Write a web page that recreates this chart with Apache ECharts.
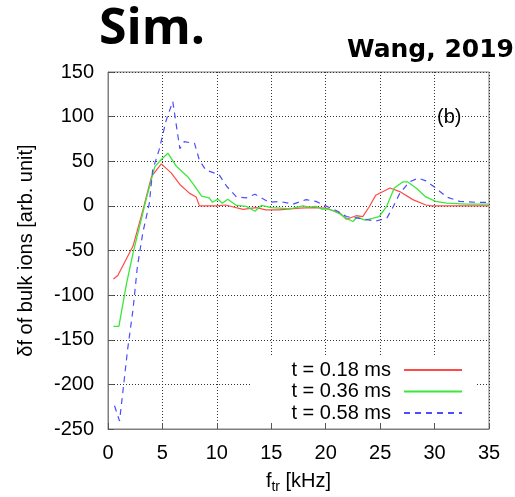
<!DOCTYPE html>
<html><head><meta charset="utf-8">
<script src="https://cdn.jsdelivr.net/npm/echarts@6/dist/echarts.min.js"></script>
<style>html,body{margin:0;padding:0;background:#fff}#c{width:515px;height:497px}</style>
</head><body><div id="c"></div>
<script>
const xTicks = [0, 5, 10, 15, 20, 25, 30, 35];
const yTicks = [-250, -200, -150, -100, -50, 0, 50, 100, 150];
const seriesNames = ['t = 0.18 ms', 't = 0.36 ms', 't = 0.58 ms'];

const redX = [0.5, 0.9, 2.3, 3.2, 4.0, 4.9, 5.8, 6.6, 7.5, 8.1, 8.4, 10.0, 10.8, 12.4, 13.6, 14.5, 15.7, 17.6, 18.8, 20.0, 21.3, 21.9, 22.8, 23.4, 24.0, 24.6, 25.9, 26.8, 28.0, 29.2, 29.7, 35];
const redY = [-82, -78, -45, -5, 33, 47, 37, 24, 14, 10, 0, 0, 1, -4, -2, -4.5, -4.5, -2.5, -2, -2.5, -8, -15, -11, -12, -1, 12, 20, 16, 7, 1, 0, 0];

const greenX = [0.5, 1.0, 1.7, 2.3, 2.9, 3.5, 4.3, 4.9, 5.5, 6.3, 7.3, 7.8, 8.6, 9.3, 9.6, 10.1, 10.5, 11.0, 11.8, 12.7, 13.5, 14.1, 15.0, 16.5, 17.0, 17.9, 18.5, 19.1, 19.6, 20.3, 21.3, 21.9, 22.5, 22.9, 23.6, 24.3, 24.9, 25.6, 26.3, 27.1, 27.5, 28.3, 29.2, 30.1, 31.1, 32.9, 35];
const greenY = [-135, -135, -87, -53, -23, 7, 44, 52, 59, 44, 33, 25, 11, 9, 4, 7.5, 3, 7.5, 0.5, -0.5, -6, 0.5, -2, -3, -2.5, 0, -1.5, -0.5, -3.5, -3.5, -9, -14, -17.5, -12.5, -16, -14, -12, -0.5, 20, 27, 27, 20, 10, 5, 3, 2, 2];

const blueX = [0.6, 1.06, 1.36, 1.8, 2.3, 2.7, 3.2, 3.8, 4.1, 4.7, 5.35, 5.95, 6.6, 7.0, 7.95, 8.4, 9.0, 10.2, 10.9, 11.8, 12.7, 13.5, 14.1, 14.8, 15.75, 17.0, 18.2, 19.1, 20.0, 21.1, 21.9, 23.1, 24.6, 25.6, 26.2, 26.8, 27.7, 28.5, 29.2, 30.1, 31.1, 32.3, 33.8, 35];
const blueY = [-224, -241, -209, -161, -116, -68, -30, 3, 40, 63, 96, 117, 64, 72, 70, 51, 40, 35, 22, 10, 9, 13, 9, 4, 5, 2, 7, 5, 0, -6, -12, -14, -17, -14, -1, 14, 27, 31, 28, 20, 10, 5, 4, 4];

const zip = (xs, ys) => xs.map((x, i) => [x, ys[i]]);
const FONT = '"Liberation Sans", Arial, sans-serif';

const chart = echarts.init(document.getElementById('c'), null, {renderer: 'canvas'});
chart.setOption({
  animation: false,
  backgroundColor: '#fff',
  grid: {left: 108, right: 26, top: 72, bottom: 68, containLabel: false, outerBoundsMode: 'none',
         show: true, borderColor: '#7f7f7f', borderWidth: 1, backgroundColor: 'transparent'},
  xAxis: {
    type: 'value', min: xTicks[0], max: xTicks[xTicks.length - 1], interval: 5,
    axisLine: {show: true, onZero: false, lineStyle: {color: '#7f7f7f'}},
    axisTick: {show: true, inside: true, length: 6, lineStyle: {color: '#555'}},
    splitLine: {show: true, lineStyle: {color: '#333', type: [1, 2], width: 1}},
    axisLabel: {fontFamily: FONT, fontSize: 20, color: '#000', margin: 14},
    name: '{f|f}{s|tr}{f| [kHz]}', nameLocation: 'middle', nameGap: 42,
    nameTextStyle: {fontFamily: FONT, color: '#000', rich: {
      f: {fontFamily: FONT, fontSize: 20, color: '#000', lineHeight: 20},
      s: {fontFamily: FONT, fontSize: 14, color: '#000', lineHeight: 14, padding: [12, 0, 0, 0]}
    }}
  },
  yAxis: {
    type: 'value', min: yTicks[0], max: yTicks[yTicks.length - 1], interval: 50,
    axisLine: {show: true, onZero: false, lineStyle: {color: '#7f7f7f'}},
    axisTick: {show: true, inside: true, length: 6, lineStyle: {color: '#555'}},
    splitLine: {show: true, lineStyle: {color: '#333', type: [1, 2], width: 1}},
    axisLabel: {fontFamily: FONT, fontSize: 20, color: '#000', margin: 14},
    name: 'δf of bulk ions [arb. unit]', nameLocation: 'middle', nameGap: 72, nameRotate: 90,
    nameTextStyle: {fontFamily: FONT, fontSize: 20, color: '#000'}
  },
  legend: {
    orient: 'vertical', right: 52, top: 360, align: 'right',
    itemWidth: 58, itemHeight: 12, itemGap: 1.5, padding: 0,
    itemStyle: {opacity: 0},
    textStyle: {fontFamily: FONT, fontSize: 20, color: '#000', padding: [0, 8, 0, 0]},
    data: seriesNames
  },
  graphic: [
    {type: 'rect', z: 1, shape: {x: 250, y: 357, width: 227, height: 64}, style: {fill: '#fff'}},
    {type: 'text', z: 5, left: 437, top: 107, style: {text: '(b)', font: '20px "Liberation Sans", Arial, sans-serif', fill: '#000'}},
    {type: 'text', z: 5, x: 152, y: 30, style: {text: 'Sim.', font: 'bold 50px "Open Sans", sans-serif', fill: '#000', textAlign: 'center', textVerticalAlign: 'middle'}},
    {type: 'text', z: 5, x: 514, y: 50, style: {text: 'Wang, 2019', font: 'bold 25px "DejaVu Sans", sans-serif', fill: '#000', textAlign: 'right', textVerticalAlign: 'middle'}}
  ],
  series: [
    {name: seriesNames[0], type: 'line', data: zip(redX, redY), showSymbol: false, symbol: 'none', z: 3,
     lineStyle: {color: '#ff4a4a', width: 1.2}, itemStyle: {color: '#ff4a4a'}},
    {name: seriesNames[1], type: 'line', data: zip(greenX, greenY), showSymbol: false, symbol: 'none', z: 3,
     lineStyle: {color: '#3ae83a', width: 1.3}, itemStyle: {color: '#3ae83a'}},
    {name: seriesNames[2], type: 'line', data: zip(blueX, blueY), showSymbol: false, symbol: 'none', z: 3,
     lineStyle: {color: '#4d4dff', width: 1.2, type: [6, 5]}, itemStyle: {color: '#4d4dff'}}
  ]
});
</script>
</body></html>
